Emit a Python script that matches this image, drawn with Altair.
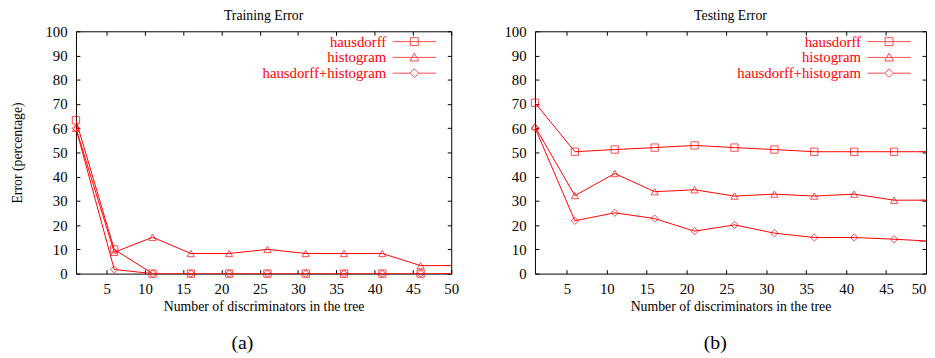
import altair as alt
import pandas as pd

FONT = "Liberation Serif"

x_vals = [1, 6, 11, 16, 21, 26, 31, 36, 41, 46, 51]
series_names = ["hausdorff", "histogram", "hausdorff+histogram"]

train_hausdorff = [63.3, 10.0, 0, 0, 0, 0, 0, 0, 0, 0, 0]
train_histogram = [60.0, 8.8, 15.0, 8.3, 8.3, 10.0, 8.3, 8.3, 8.3, 3.3, 3.3]
train_combined = [60.0, 1.7, 0, 0, 0, 0, 0, 0, 0, 0, 0]

test_hausdorff = [70.5, 50.3, 51.2, 52.0, 52.9, 52.0, 51.2, 50.3, 50.3, 50.3, 50.3]
test_histogram = [60.7, 32.2, 41.3, 33.8, 34.6, 32.0, 32.8, 32.0, 32.8, 30.3, 30.3]
test_combined = [60.2, 21.8, 25.1, 22.7, 17.5, 20.1, 16.7, 14.9, 14.9, 14.2, 13.3]

x_ticks = [5, 10, 15, 20, 25, 30, 35, 40, 45, 50]
y_ticks = [0, 10, 20, 30, 40, 50, 60, 70, 80, 90, 100]

point_shapes = ["square", "triangle-up", "diamond"]
legend_shapes = [
    "M-5.5,0H5.5M-1,-1H1V1H-1Z",
    "M-5.5,0H5.5M0,-1.1L1.1,0.9H-1.1Z",
    "M-5.5,0H-1.1L0,-1.1L1.1,0L0,1.1L-1.1,0M1.1,0H5.5",
]


def make_df(values):
    rows = []
    for name, vals in zip(series_names, values):
        for x, v in zip(x_vals, vals):
            rows.append({"x": x, "y": v, "series": name})
    return pd.DataFrame(rows)


train_df = make_df([train_hausdorff, train_histogram, train_combined])
test_df = make_df([test_hausdorff, test_histogram, test_combined])

H = 246
xs = alt.Scale(domain=[1, 50], nice=False, zero=False)
ys = alt.Scale(domain=[0, 100], nice=False, zero=True)


def panel(df, title, ytitle, W, legx, flush):
    base = alt.Chart(df)
    x_main = alt.X("x:Q", scale=xs, axis=alt.Axis(
        orient="bottom", values=x_ticks, ticks=False, tickSize=0, domain=False, grid=False,
        labelPadding=8, labelFlush=flush, labelOverlap=False,
        title="Number of discriminators in the tree", titlePadding=3))
    y_main = alt.Y("y:Q", scale=ys, axis=alt.Axis(
        orient="left", values=y_ticks, ticks=False, tickSize=0, domain=False, grid=False,
        labelPadding=9, labelFlush=False, labelOverlap=False,
        title=ytitle, titlePadding=21))
    x_in1 = alt.X("x:Q", scale=xs, axis=alt.Axis(
        orient="top", offset=-H, values=x_ticks, labels=False, domain=False, grid=False,
        tickSize=4, tickColor="black", title=None))
    y_in1 = alt.Y("y:Q", scale=ys, axis=alt.Axis(
        orient="right", offset=-W, values=y_ticks, labels=False, domain=False, grid=False,
        tickSize=4, tickColor="black", title=None))
    x_in2 = alt.X("x:Q", scale=xs, axis=alt.Axis(
        orient="bottom", offset=-H, values=x_ticks, labels=False, domain=False, grid=False,
        tickSize=4, tickColor="black", title=None))
    y_in2 = alt.Y("y:Q", scale=ys, axis=alt.Axis(
        orient="left", offset=-W, values=y_ticks, labels=False, domain=False, grid=False,
        tickSize=4, tickColor="black", title=None))

    lines = base.mark_line(color="red", strokeWidth=1, clip=True).encode(
        x=x_main, y=y_main, detail="series:N")
    points = base.transform_filter("datum.x <= 50").mark_point(
        filled=False, color="red", size=55, strokeWidth=1).encode(
        x=x_in1, y=y_in1,
        shape=alt.Shape("series:N", scale=alt.Scale(domain=series_names, range=point_shapes),
                        legend=None))
    leg = base.transform_filter("datum.x > 50").mark_point(
        filled=False, color="red", strokeWidth=1, clip=True).encode(
        x=x_in2, y=y_in2,
        shape=alt.Shape("series:N", scale=alt.Scale(domain=series_names, range=legend_shapes),
                        legend=alt.Legend(
                            orient="none", legendX=legx, legendY=3, title=None,
                            labelAlign="right", labelOffset={"expr": "-36"}, labelColor="red",
                            labelFont=FONT, labelFontSize=15, labelLimit=400,
                            symbolSize=64, symbolStrokeColor="red",
                            symbolFillColor="transparent", symbolStrokeWidth=1,
                            rowPadding={"expr": "-2"}, padding=0)))
    return alt.layer(lines, points, leg).resolve_scale(shape="independent").resolve_axis(
        x="independent", y="independent").properties(
        width=W, height=H,
        title=alt.TitleParams(title, font=FONT, fontSize=14, fontWeight="normal",
                              anchor="middle", frame="group", offset=1, color="black"))


left = panel(train_df, "Training Error", "Error (percentage)", 381, 336, False)
right = panel(test_df, "Testing Error", None, 397, 352, True)

cap_a = alt.hconcat(left).properties(title=alt.TitleParams(
    "(a)", orient="bottom", anchor="middle", font=FONT, fontSize=20, fontWeight="normal",
    dx=8, offset=20, color="black"))
cap_b = alt.hconcat(right).properties(title=alt.TitleParams(
    "(b)", orient="bottom", anchor="middle", font=FONT, fontSize=20, fontWeight="normal",
    offset=20, color="black"))

chart = alt.hconcat(cap_a, cap_b, spacing=45).resolve_legend(shape="independent").properties(
    padding={"left": 2, "top": -2, "right": 0, "bottom": 0}
).configure_view(stroke="black", strokeWidth=1).configure_axis(
    labelFont=FONT, titleFont=FONT, labelFontSize=15, titleFontSize=14,
    titleFontWeight="normal", labelColor="black", titleColor="black")

chart.save("out.html", embed_options={"renderer": "svg", "actions": False})
